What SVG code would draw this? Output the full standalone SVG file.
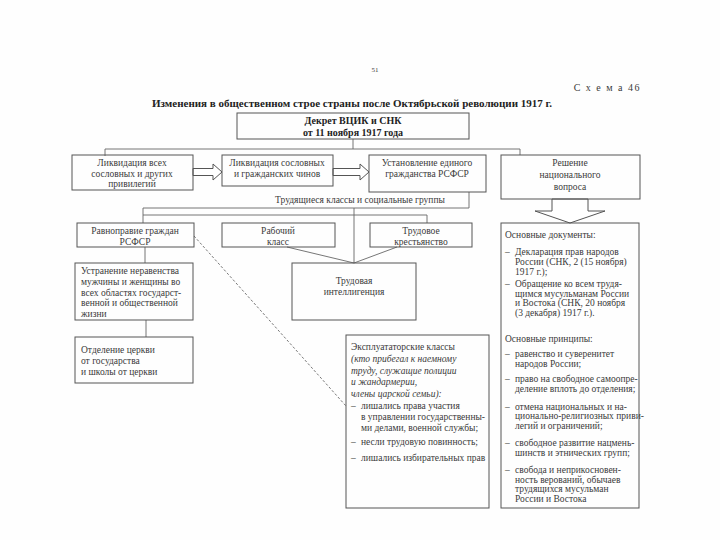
<svg xmlns="http://www.w3.org/2000/svg" width="720" height="540" viewBox="0 0 720 540">
<style>
.bg{fill:#fefefe}
.box{fill:none;stroke:#555;stroke-width:1}
.t{font-family:"Liberation Serif","Times New Roman",serif;font-size:9.5px;fill:#3a3a3a}
.c{text-anchor:middle}
.b{font-weight:bold;fill:#222}
.i{font-style:italic}
.ln{stroke:#666;stroke-width:0.9;fill:none}
.dash{stroke-dasharray:2.5 2}
.arr{fill:#fff;stroke:#555;stroke-width:1}
</style>
<rect class="bg" x="0" y="0" width="720" height="540"/>
<g id="header">
<text class="t c" x="375" y="72" style="font-size:7px">51</text>
<text class="t" x="641" y="91" text-anchor="end" style="font-size:10px;letter-spacing:1.5px">С х е м а 46</text>
<text class="t c b" x="352" y="107" style="font-size:11px">Изменения в общественном строе страны после Октябрьской революции 1917 г.</text>
</g>
<g id="connectors">
<line class="ln" x1="353" y1="139" x2="353" y2="149"/>
<polyline class="ln" points="105,156 105,149 520,149 520,155"/>
<polygon class="arr" points="193,168.5 213,168.5 213,164 222,172 213,180 213,175.5 193,175.5"/>
<polygon class="arr" points="333,168.5 360,168.5 360,164 369,172 360,180 360,175.5 333,175.5"/>
<polygon class="arr" points="552,199 552,211 535,211 570,223 605,211 588,211 588,199"/>
<polyline class="ln" points="469,192 469,208 143,208 143,223"/>
<polyline class="ln" points="143,215 427,215 427,223"/>
<line class="ln" x1="354" y1="208" x2="354" y2="263"/>
<line class="ln" x1="287" y1="247" x2="354" y2="263"/>
<line class="ln" x1="397" y1="247" x2="354" y2="263"/>
<line class="ln" x1="145" y1="247" x2="145" y2="263"/>
<line class="ln" x1="146" y1="320" x2="146" y2="337"/>
<line class="ln dash" x1="194" y1="236" x2="346" y2="406"/>
</g>
<g id="decree">
<rect class="box" x="237" y="113" width="232" height="26"/>
<text class="t c b" x="353" y="124" style="font-size:10px">Декрет ВЦИК и СНК</text>
<text class="t c b" x="353" y="136" style="font-size:10px">от 11 ноября 1917 года</text>
</g>
<g id="privileges">
<rect class="box" x="72" y="155" width="121" height="35"/>
<text class="t c" x="132" y="166">Ликвидация всех</text>
<text class="t c" x="132" y="176.5">сословных и других</text>
<text class="t c" x="132" y="187">привилегий</text>
</g>
<g id="ranks">
<rect class="box" x="222" y="155" width="111" height="31"/>
<text class="t c" x="277" y="166">Ликвидация сословных</text>
<text class="t c" x="277" y="177">и гражданских чинов</text>
</g>
<g id="citizenship">
<rect class="box" x="369" y="155" width="117" height="37"/>
<text class="t c" x="427" y="166">Установление единого</text>
<text class="t c" x="427" y="177">гражданства РСФСР</text>
</g>
<g id="national">
<rect class="box" x="501" y="155" width="139" height="44"/>
<text class="t c" x="570" y="166">Решение</text>
<text class="t c" x="570" y="178">национального</text>
<text class="t c" x="570" y="190">вопроса</text>
</g>
<g id="label-classes">
<text class="t c" x="360" y="203">Трудящиеся классы и социальные группы</text>
</g>
<g id="equality">
<rect class="box" x="77" y="223" width="117" height="24"/>
<text class="t c" x="135" y="234">Равноправие граждан</text>
<text class="t c" x="135" y="244.5">РСФСР</text>
</g>
<g id="workers">
<rect class="box" x="222" y="223" width="113" height="24"/>
<text class="t c" x="278" y="234">Рабочий</text>
<text class="t c" x="278" y="244.5">класс</text>
</g>
<g id="peasants">
<rect class="box" x="370" y="223" width="102" height="24"/>
<text class="t c" x="421" y="234">Трудовое</text>
<text class="t c" x="421" y="244.5">крестьянство</text>
</g>
<g id="intelligentsia">
<rect class="box" x="292" y="263" width="124" height="57"/>
<text class="t c" x="354" y="284">Трудовая</text>
<text class="t c" x="354" y="295">интеллигенция</text>
</g>
<g id="women">
<rect class="box" x="75" y="263" width="118" height="57"/>
<text class="t" x="81" y="274">Устранение неравенства</text>
<text class="t" x="81" y="285">мужчины и женщины во</text>
<text class="t" x="81" y="295.5">всех областях государст-</text>
<text class="t" x="81" y="306">венной и общественной</text>
<text class="t" x="81" y="317">жизни</text>
</g>
<g id="church">
<rect class="box" x="75" y="337" width="118" height="46"/>
<text class="t" x="81" y="353">Отделение церкви</text>
<text class="t" x="81" y="364">от государства</text>
<text class="t" x="81" y="375">и школы от церкви</text>
</g>
<g id="exploiters">
<rect class="box" x="346" y="335" width="143" height="173"/>
<text class="t" x="351" y="350">Эксплуататорские классы</text>
<text class="t i" x="351" y="362">(кто прибегал к наемному</text>
<text class="t i" x="351" y="374">труду, служащие полиции</text>
<text class="t i" x="351" y="385">и жандармерии,</text>
<text class="t i" x="351" y="397">члены царской семьи):</text>
<text class="t" x="351" y="409">–</text>
<text class="t" x="361" y="409">лишались права участия</text>
<text class="t" x="361" y="420">в управлении государственны-</text>
<text class="t" x="361" y="431">ми делами, военной службы;</text>
<text class="t" x="351" y="445">–</text>
<text class="t" x="361" y="445">несли трудовую повинность;</text>
<text class="t" x="351" y="461">–</text>
<text class="t" x="361" y="461">лишались избирательных прав</text>
</g>
<g id="documents">
<rect class="box" x="501" y="223" width="138" height="285"/>
<text class="t" x="505" y="238">Основные документы:</text>
<text class="t" x="505" y="255">–</text>
<text class="t" x="515" y="255">Декларация прав народов</text>
<text class="t" x="515" y="265">России (СНК, 2 (15 ноября)</text>
<text class="t" x="515" y="274.5">1917 г.);</text>
<text class="t" x="505" y="287">–</text>
<text class="t" x="515" y="287">Обращение ко всем трудя-</text>
<text class="t" x="515" y="296.5">щимся мусульманам России</text>
<text class="t" x="515" y="306">и Востока (СНК, 20 ноября</text>
<text class="t" x="515" y="316">(3 декабря) 1917 г.).</text>
<text class="t" x="505" y="342">Основные принципы:</text>
<text class="t" x="505" y="357">–</text>
<text class="t" x="515" y="357">равенство и суверенитет</text>
<text class="t" x="515" y="366.5">народов России;</text>
<text class="t" x="505" y="382">–</text>
<text class="t" x="515" y="382">право на свободное самоопре-</text>
<text class="t" x="515" y="392">деление вплоть до отделения;</text>
<text class="t" x="505" y="409.5">–</text>
<text class="t" x="515" y="409.5">отмена национальных и на-</text>
<text class="t" x="515" y="419">ционально-религиозных приви-</text>
<text class="t" x="515" y="429">легий и ограничений;</text>
<text class="t" x="505" y="446">–</text>
<text class="t" x="515" y="446">свободное развитие нацмень-</text>
<text class="t" x="515" y="456">шинств и этнических групп;</text>
<text class="t" x="505" y="473">–</text>
<text class="t" x="515" y="473">свобода и неприкосновен-</text>
<text class="t" x="515" y="483">ность верований, обычаев</text>
<text class="t" x="515" y="492">трудящихся мусульман</text>
<text class="t" x="515" y="502">России и Востока</text>
</g>
</svg>
